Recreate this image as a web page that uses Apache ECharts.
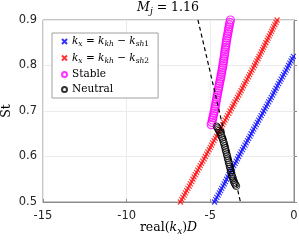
<!DOCTYPE html>
<html>
<head>
<meta charset="utf-8">
<script src="https://cdn.jsdelivr.net/npm/echarts@6/dist/echarts.min.js"></script>
<style>html,body{margin:0;padding:0;background:#fff}#c{width:299px;height:242px}</style>
</head>
<body>
<div id="c"></div>
<script>
// ---- data ----
const xTicks = [-15, -10, -5, 0];
const yTicks = [0.5, 0.6, 0.7, 0.8, 0.9];
const seriesNames = ['kx1', 'kx2', 'Stable', 'Neutral'];
// [real(kx)D, St]
const blueKx1 = [[-4.75,0.50],[-4.68,0.505],[-4.61,0.51],[-4.53,0.515],[-4.46,0.52],[-4.39,0.525],[-4.32,0.53],[-4.24,0.535],[-4.17,0.54],[-4.10,0.545],[-4.03,0.55],[-3.96,0.555],[-3.89,0.56],[-3.81,0.565],[-3.74,0.57],[-3.67,0.575],[-3.60,0.58],[-3.52,0.585],[-3.45,0.59],[-3.38,0.595],[-3.31,0.60],[-3.23,0.605],[-3.16,0.61],[-3.08,0.615],[-3.01,0.62],[-2.93,0.625],[-2.86,0.63],[-2.78,0.635],[-2.71,0.64],[-2.63,0.645],[-2.56,0.65],[-2.48,0.655],[-2.41,0.66],[-2.33,0.665],[-2.26,0.67],[-2.18,0.675],[-2.11,0.68],[-2.03,0.685],[-1.96,0.69],[-1.88,0.695],[-1.81,0.70],[-1.73,0.705],[-1.66,0.71],[-1.58,0.715],[-1.51,0.72],[-1.43,0.725],[-1.36,0.73],[-1.28,0.735],[-1.21,0.74],[-1.14,0.745],[-1.07,0.75],[-0.99,0.755],[-0.92,0.76],[-0.84,0.765],[-0.77,0.77],[-0.69,0.775],[-0.62,0.78],[-0.54,0.785],[-0.47,0.79],[-0.39,0.795],[-0.32,0.80],[-0.25,0.805],[-0.18,0.81],[-0.11,0.815],[-0.04,0.82]];
const redKx2 = [[-6.79,0.50],[-6.71,0.505],[-6.64,0.51],[-6.56,0.515],[-6.49,0.52],[-6.41,0.525],[-6.34,0.53],[-6.26,0.535],[-6.19,0.54],[-6.11,0.545],[-6.04,0.55],[-5.97,0.555],[-5.90,0.56],[-5.82,0.565],[-5.75,0.57],[-5.67,0.575],[-5.60,0.58],[-5.52,0.585],[-5.45,0.59],[-5.37,0.595],[-5.30,0.60],[-5.22,0.605],[-5.15,0.61],[-5.07,0.615],[-5.00,0.62],[-4.93,0.625],[-4.86,0.63],[-4.78,0.635],[-4.71,0.64],[-4.63,0.645],[-4.56,0.65],[-4.48,0.655],[-4.41,0.66],[-4.33,0.665],[-4.26,0.67],[-4.19,0.675],[-4.12,0.68],[-4.04,0.685],[-3.97,0.69],[-3.89,0.695],[-3.82,0.70],[-3.74,0.705],[-3.67,0.71],[-3.60,0.715],[-3.53,0.72],[-3.45,0.725],[-3.38,0.73],[-3.30,0.735],[-3.23,0.74],[-3.16,0.745],[-3.09,0.75],[-3.01,0.755],[-2.94,0.76],[-2.87,0.765],[-2.80,0.77],[-2.72,0.775],[-2.65,0.78],[-2.58,0.785],[-2.51,0.79],[-2.43,0.795],[-2.36,0.80],[-2.29,0.805],[-2.22,0.81],[-2.15,0.815],[-2.09,0.82],[-2.02,0.825],[-1.95,0.83],[-1.88,0.835],[-1.82,0.84],[-1.75,0.845],[-1.68,0.85],[-1.61,0.855],[-1.55,0.86],[-1.48,0.865],[-1.41,0.87],[-1.34,0.875],[-1.28,0.88],[-1.21,0.885],[-1.14,0.89],[-1.07,0.895],[-1.01,0.90]];
const stablePts = [[-4.95,0.67],[-4.91,0.675],[-4.88,0.68],[-4.85,0.685],[-4.82,0.69],[-4.79,0.695],[-4.76,0.70],[-4.73,0.705],[-4.71,0.71],[-4.68,0.715],[-4.66,0.72],[-4.63,0.725],[-4.61,0.73],[-4.58,0.735],[-4.56,0.74],[-4.53,0.745],[-4.51,0.75],[-4.48,0.755],[-4.46,0.76],[-4.43,0.765],[-4.40,0.77],[-4.37,0.775],[-4.35,0.78],[-4.32,0.785],[-4.30,0.79],[-4.27,0.795],[-4.25,0.80],[-4.23,0.805],[-4.21,0.81],[-4.19,0.815],[-4.17,0.82],[-4.15,0.825],[-4.13,0.83],[-4.11,0.835],[-4.09,0.84],[-4.07,0.845],[-4.05,0.85],[-4.03,0.855],[-4.01,0.86],[-3.98,0.865],[-3.96,0.87],[-3.93,0.875],[-3.91,0.88],[-3.88,0.885],[-3.86,0.89],[-3.83,0.895],[-3.80,0.90]];
const neutralPts = [[-4.62,0.666],[-4.57,0.663],[-4.52,0.660],[-4.47,0.657],[-4.42,0.653],[-4.37,0.649],[-4.33,0.645],[-4.29,0.641],[-4.25,0.637],[-4.21,0.632],[-4.18,0.628],[-4.14,0.623],[-4.11,0.619],[-4.08,0.614],[-4.05,0.610],[-4.02,0.605],[-3.99,0.601],[-3.96,0.596],[-3.93,0.592],[-3.90,0.587],[-3.87,0.583],[-3.84,0.578],[-3.81,0.574],[-3.78,0.569],[-3.75,0.565],[-3.72,0.560],[-3.69,0.556],[-3.65,0.552],[-3.62,0.548],[-3.58,0.544],[-3.55,0.541],[-3.50,0.538],[-3.45,0.535]];
const dashedPts = [[-5.74,0.90],[-5.10,0.80],[-4.47,0.70],[-3.83,0.60],[-3.20,0.50]];

const SERIF = 'DejaVu Serif';
const SANS = 'DejaVu Sans';
const CROSS = 'path://M0,0L10,10M10,0L0,10';
function mathStyles(fs, sfs, lh) {
  return {
    it: {fontFamily: SERIF, fontStyle: 'italic', fontWeight: 'normal', fontSize: fs, color: '#000', lineHeight: lh},
    rm: {fontFamily: SERIF, fontWeight: 'normal', fontSize: fs, color: '#000', lineHeight: lh},
    sub: {fontFamily: SERIF, fontStyle: 'italic', fontWeight: 'normal', fontSize: sfs, color: '#000', verticalAlign: 'bottom', lineHeight: sfs + 2.5},
    subrm: {fontFamily: SERIF, fontWeight: 'normal', fontSize: sfs, color: '#000', verticalAlign: 'bottom', lineHeight: sfs + 2.5}
  };
}
const math = mathStyles(10.5, 7.5, 14);
const mathBig = mathStyles(12.5, 9, 16);
const legendLabels = {
  kx1: '{it|k}{sub|x}{rm| = }{it|k}{sub|kh}{rm| − }{it|k}{sub|sh}{subrm|1}',
  kx2: '{it|k}{sub|x}{rm| = }{it|k}{sub|kh}{rm| − }{it|k}{sub|sh}{subrm|2}',
  Stable: '{rm|Stable}',
  Neutral: '{rm|Neutral}'
};

const chart = echarts.init(document.getElementById('c'), null, {renderer: 'canvas'});
const axisGray = '#8c8c8c';
chart.setOption({
  animation: false,
  title: {
    text: '{it|M}{sub|j}{rm| = 1.16}',
    left: 168, top: 0, textAlign: 'center', padding: 0,
    textStyle: {fontWeight: 'normal', rich: mathBig}
  },
  grid: {left: 43, right: 5, top: 20, bottom: 40, outerBoundsMode: 'none', containLabel: false,
    show: true, borderColor: axisGray, borderWidth: 1, backgroundColor: 'transparent'},
  legend: {
    orient: 'vertical', left: 52, top: 33,
    data: seriesNames,
    itemWidth: 5, itemHeight: 5, itemGap: 4,
    padding: [3, 9, 3, 9],
    backgroundColor: '#fff', borderColor: '#a0a0a0', borderWidth: 1, borderRadius: 0,
    formatter: n => legendLabels[n],
    textStyle: {rich: math}
  },
  xAxis: {
    type: 'value', min: -15, max: 0, interval: 5,
    name: '{rm|real(}{it|k}{sub|x}{rm|)}{it|D}',
    nameLocation: 'middle', nameGap: 18, nameMoveOverlap: false,
    nameTextStyle: {rich: mathBig},
    axisLine: {show: true, lineStyle: {color: axisGray}},
    axisTick: {show: true, inside: true, length: 3, lineStyle: {color: axisGray}},
    axisLabel: {color: '#262626', fontFamily: SANS, fontSize: 11.5, margin: 8,
      formatter: v => xTicks.includes(v) ? String(v) : ''},
    splitLine: {show: true, lineStyle: {color: '#ebebeb', width: 1}}
  },
  yAxis: {
    type: 'value', min: 0.5, max: 0.9, interval: 0.1,
    name: '{rm|St}', nameLocation: 'middle', nameGap: 28, nameRotate: 90, nameMoveOverlap: false,
    nameTextStyle: {rich: mathBig},
    axisLine: {show: true, lineStyle: {color: axisGray}},
    axisTick: {show: true, inside: true, length: 3, lineStyle: {color: axisGray}},
    axisLabel: {color: '#262626', fontFamily: SANS, fontSize: 11.5, margin: 6,
      formatter: v => yTicks.some(t => Math.abs(t - v) < 1e-9) ? v.toFixed(1) : ''},
    splitLine: {show: true, lineStyle: {color: '#ebebeb', width: 1}}
  },
  series: [
    {name: 'kx1', type: 'scatter', data: blueKx1, symbol: CROSS, symbolSize: 5,
      itemStyle: {color: 'rgba(0,0,0,0)', borderColor: '#0000ff', borderWidth: 1.1}, z: 2},
    {name: 'kx2', type: 'scatter', data: redKx2, symbol: CROSS, symbolSize: 5,
      itemStyle: {color: 'rgba(0,0,0,0)', borderColor: '#ff0000', borderWidth: 1.1}, z: 2},
    {name: 'Stable', type: 'scatter', data: stablePts, symbol: 'circle', symbolSize: 8,
      itemStyle: {color: 'rgba(0,0,0,0)', borderColor: '#ff00ff', borderWidth: 1.2}, z: 3},
    {name: 'Neutral', type: 'scatter', data: neutralPts, symbol: 'circle', symbolSize: 7,
      itemStyle: {color: 'rgba(0,0,0,0)', borderColor: '#000000', borderWidth: 1}, z: 4},
    {name: 'kh', type: 'line', data: dashedPts, symbol: 'none', smooth: false,
      lineStyle: {color: '#000', width: 1.2, type: [4, 3]}, z: 5}
  ]
});
</script>
</body>
</html>
